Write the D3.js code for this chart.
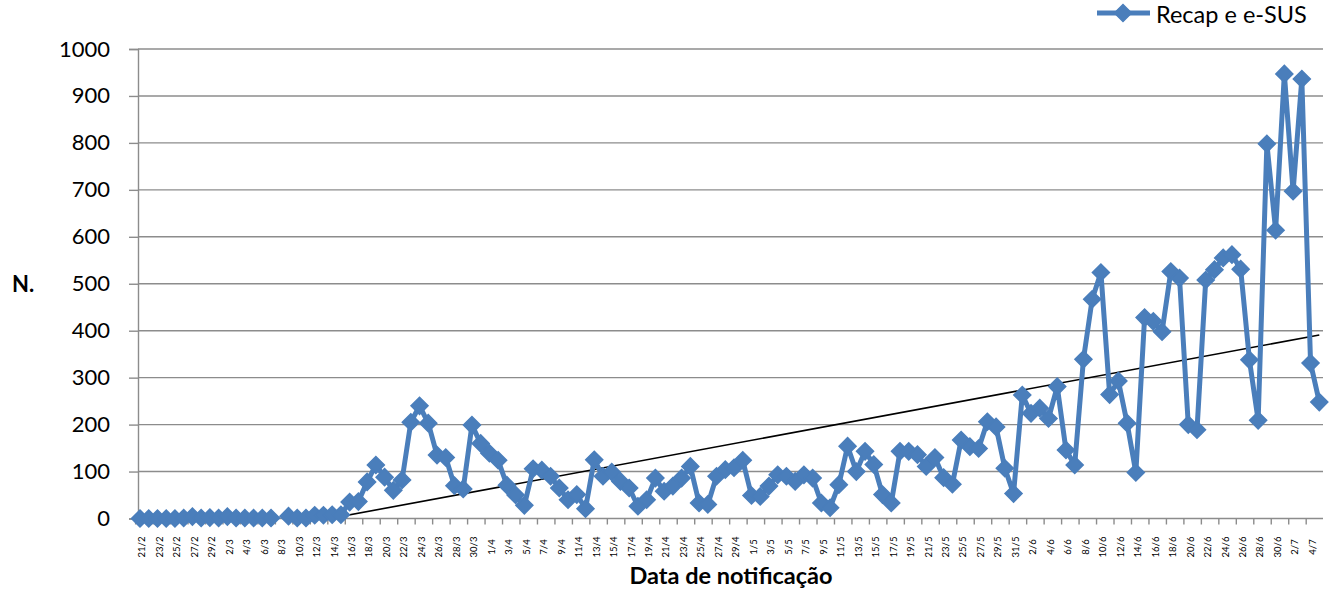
<!DOCTYPE html>
<html>
<head>
<meta charset="utf-8">
<script src="https://cdn.jsdelivr.net/npm/d3@7"></script>
<style>
  body { margin: 0; background: #fff; }
  svg { display: block; font-family: Lato, "Open Sans", sans-serif; }
</style>
</head>
<body>
<svg id="chart" width="1330" height="591"></svg>
<script>
// categories: one per day, 21/2 to 5/7
var dates = [
  '21/2','22/2','23/2','24/2','25/2','26/2','27/2','28/2','29/2',
  '1/3','2/3','3/3','4/3','5/3','6/3','7/3','8/3','9/3','10/3','11/3','12/3','13/3','14/3','15/3',
  '16/3','17/3','18/3','19/3','20/3','21/3','22/3','23/3','24/3','25/3','26/3','27/3','28/3','29/3','30/3','31/3',
  '1/4','2/4','3/4','4/4','5/4','6/4','7/4','8/4','9/4','10/4','11/4','12/4','13/4','14/4','15/4',
  '16/4','17/4','18/4','19/4','20/4','21/4','22/4','23/4','24/4','25/4','26/4','27/4','28/4','29/4','30/4',
  '1/5','2/5','3/5','4/5','5/5','6/5','7/5','8/5','9/5','10/5','11/5','12/5','13/5','14/5','15/5',
  '16/5','17/5','18/5','19/5','20/5','21/5','22/5','23/5','24/5','25/5','26/5','27/5','28/5','29/5','30/5','31/5',
  '1/6','2/6','3/6','4/6','5/6','6/6','7/6','8/6','9/6','10/6','11/6','12/6','13/6','14/6','15/6',
  '16/6','17/6','18/6','19/6','20/6','21/6','22/6','23/6','24/6','25/6','26/6','27/6','28/6','29/6','30/6',
  '1/7','2/7','3/7','4/7','5/7'
];

// Recap e e-SUS (null = no value that day)
var cases = [
  0, 0, 0, 0, 0, 1, 4, 1, 2,
  1, 4, 1, 1, 1, 1, 1, null, 5, 1, 1, 7, 7, 8, 8,
  35, 36, 78, 114, 88, 60, 82, 205, 240, 203, 135, 130, 70, 63, 199, 160,
  139, 124, 71, 50, 28, 106, 103, 90, 65, 40, 51, 21, 125, 90, 99,
  79, 65, 26, 40, 86, 58, 69, 86, 111, 33, 30, 90, 104, 108, 124,
  49, 47, 69, 93, 90, 79, 93, 86, 33, 23, 72, 154, 100, 143, 115,
  51, 33, 143, 143, 136, 111, 130, 87, 73, 167, 153, 149, 206, 195, 107, 53,
  263, 224, 235, 213, 281, 146, 114, 339, 467, 524, 264, 293, 203, 98, 428,
  420, 398, 526, 512, 200, 189, 508, 530, 555, 562, 531, 338, 209, 798, 614,
  947, 697, 936, 331, 248
];

// linear trend line, value at first and last day
var trendDates = ['21/2', '5/7'];
var trendValues = [-75, 391];

var yTicks = [0, 100, 200, 300, 400, 500, 600, 700, 800, 900, 1000];
var seriesName = 'Recap e e-SUS';

var blue = '#4a7ebb';
var grid = '#8c8c8c';

var svg = d3.select('#chart');

var x = d3.scalePoint().domain(dates).range([140, 1319.3]);
var y = d3.scaleLinear().domain([0, 1000]).range([518.5, 49]);
var step = x.step();

// gridlines
svg.append('g')
  .selectAll('line')
  .data(yTicks.filter(function (d) { return d > 0; }))
  .enter().append('line')
  .attr('x1', 138).attr('x2', 1323)
  .attr('y1', function (d) { return y(d); })
  .attr('y2', function (d) { return y(d); })
  .attr('stroke', grid).attr('stroke-width', 1.4);

// y axis
var yAxis = svg.append('g')
  .attr('transform', 'translate(138,0)')
  .call(d3.axisLeft(y).tickValues(yTicks).tickFormat(d3.format('d')).tickSize(9).tickPadding(19));
yAxis.select('.domain').attr('stroke', grid).attr('stroke-width', 1.4);
yAxis.selectAll('.tick line').attr('stroke', grid).attr('stroke-width', 1.4);
yAxis.selectAll('.tick text')
  .attr('font-family', 'Lato, sans-serif')
  .attr('font-size', 22)
  .attr('fill', '#000');

// x axis line
svg.append('line')
  .attr('x1', 138).attr('x2', 1323)
  .attr('y1', y(0)).attr('y2', y(0))
  .attr('stroke', grid).attr('stroke-width', 1.4);

// x ticks between categories, every second one
var tickDates = dates.filter(function (d, i) { return i % 2 === 0; });
svg.append('g')
  .selectAll('line')
  .data(tickDates)
  .enter().append('line')
  .attr('x1', function (d) { return x(d) - step / 2; })
  .attr('x2', function (d) { return x(d) - step / 2; })
  .attr('y1', y(0)).attr('y2', y(0) + 6)
  .attr('stroke', grid).attr('stroke-width', 1.4);

svg.append('g')
  .selectAll('text')
  .data(tickDates)
  .enter().append('text')
  .attr('transform', function (d) { return 'translate(' + (x(d) + 2) + ',547) rotate(-90)'; })
  .attr('text-anchor', 'middle')
  .attr('dy', '0.35em')
  .attr('font-size', 9.5)
  .attr('fill', '#000')
  .text(function (d) { return d; });

// trend line, clipped to the plot
svg.append('clipPath').attr('id', 'plot')
  .append('rect').attr('x', 138).attr('y', 49).attr('width', 1185).attr('height', 470);

svg.append('line')
  .attr('clip-path', 'url(#plot)')
  .attr('x1', x(trendDates[0])).attr('y1', y(trendValues[0]))
  .attr('x2', x(trendDates[1])).attr('y2', y(trendValues[1]))
  .attr('stroke', '#000').attr('stroke-width', 1.6);

// series
var points = dates.map(function (d, i) { return { date: d, value: cases[i] }; });

var line = d3.line()
  .defined(function (d) { return d.value != null; })
  .x(function (d) { return x(d.date); })
  .y(function (d) { return y(d.value); });

svg.append('path')
  .datum(points)
  .attr('d', line)
  .attr('fill', 'none')
  .attr('stroke', blue)
  .attr('stroke-width', 5)
  .attr('stroke-linejoin', 'round');

var diamond = d3.symbol().type(d3.symbolSquare).size(145);

svg.append('g')
  .selectAll('path')
  .data(points.filter(function (d) { return d.value != null; }))
  .enter().append('path')
  .attr('d', diamond)
  .attr('transform', function (d) { return 'translate(' + x(d.date) + ',' + y(d.value) + ') rotate(45)'; })
  .attr('fill', blue)
  .attr('stroke', blue)
  .attr('stroke-width', 1.5);

// axis titles
svg.append('text')
  .attr('x', 12).attr('y', 292)
  .attr('font-size', 22).attr('font-weight', 'bold')
  .text('N.');

svg.append('text')
  .attr('x', 731).attr('y', 584)
  .attr('text-anchor', 'middle')
  .attr('font-size', 23.5).attr('font-weight', 'bold')
  .text('Data de notificação');

// legend
var legend = svg.append('g');
legend.append('line')
  .attr('x1', 1097).attr('x2', 1150)
  .attr('y1', 13).attr('y2', 13)
  .attr('stroke', blue).attr('stroke-width', 5);
legend.append('path')
  .attr('d', diamond)
  .attr('transform', 'translate(1123,13) rotate(45)')
  .attr('fill', blue).attr('stroke', blue).attr('stroke-width', 1.5);
legend.append('text')
  .attr('x', 1156).attr('y', 21)
  .attr('dy', '0.1em')
  .attr('font-size', 23.5)
  .text(seriesName);
</script>
</body>
</html>
